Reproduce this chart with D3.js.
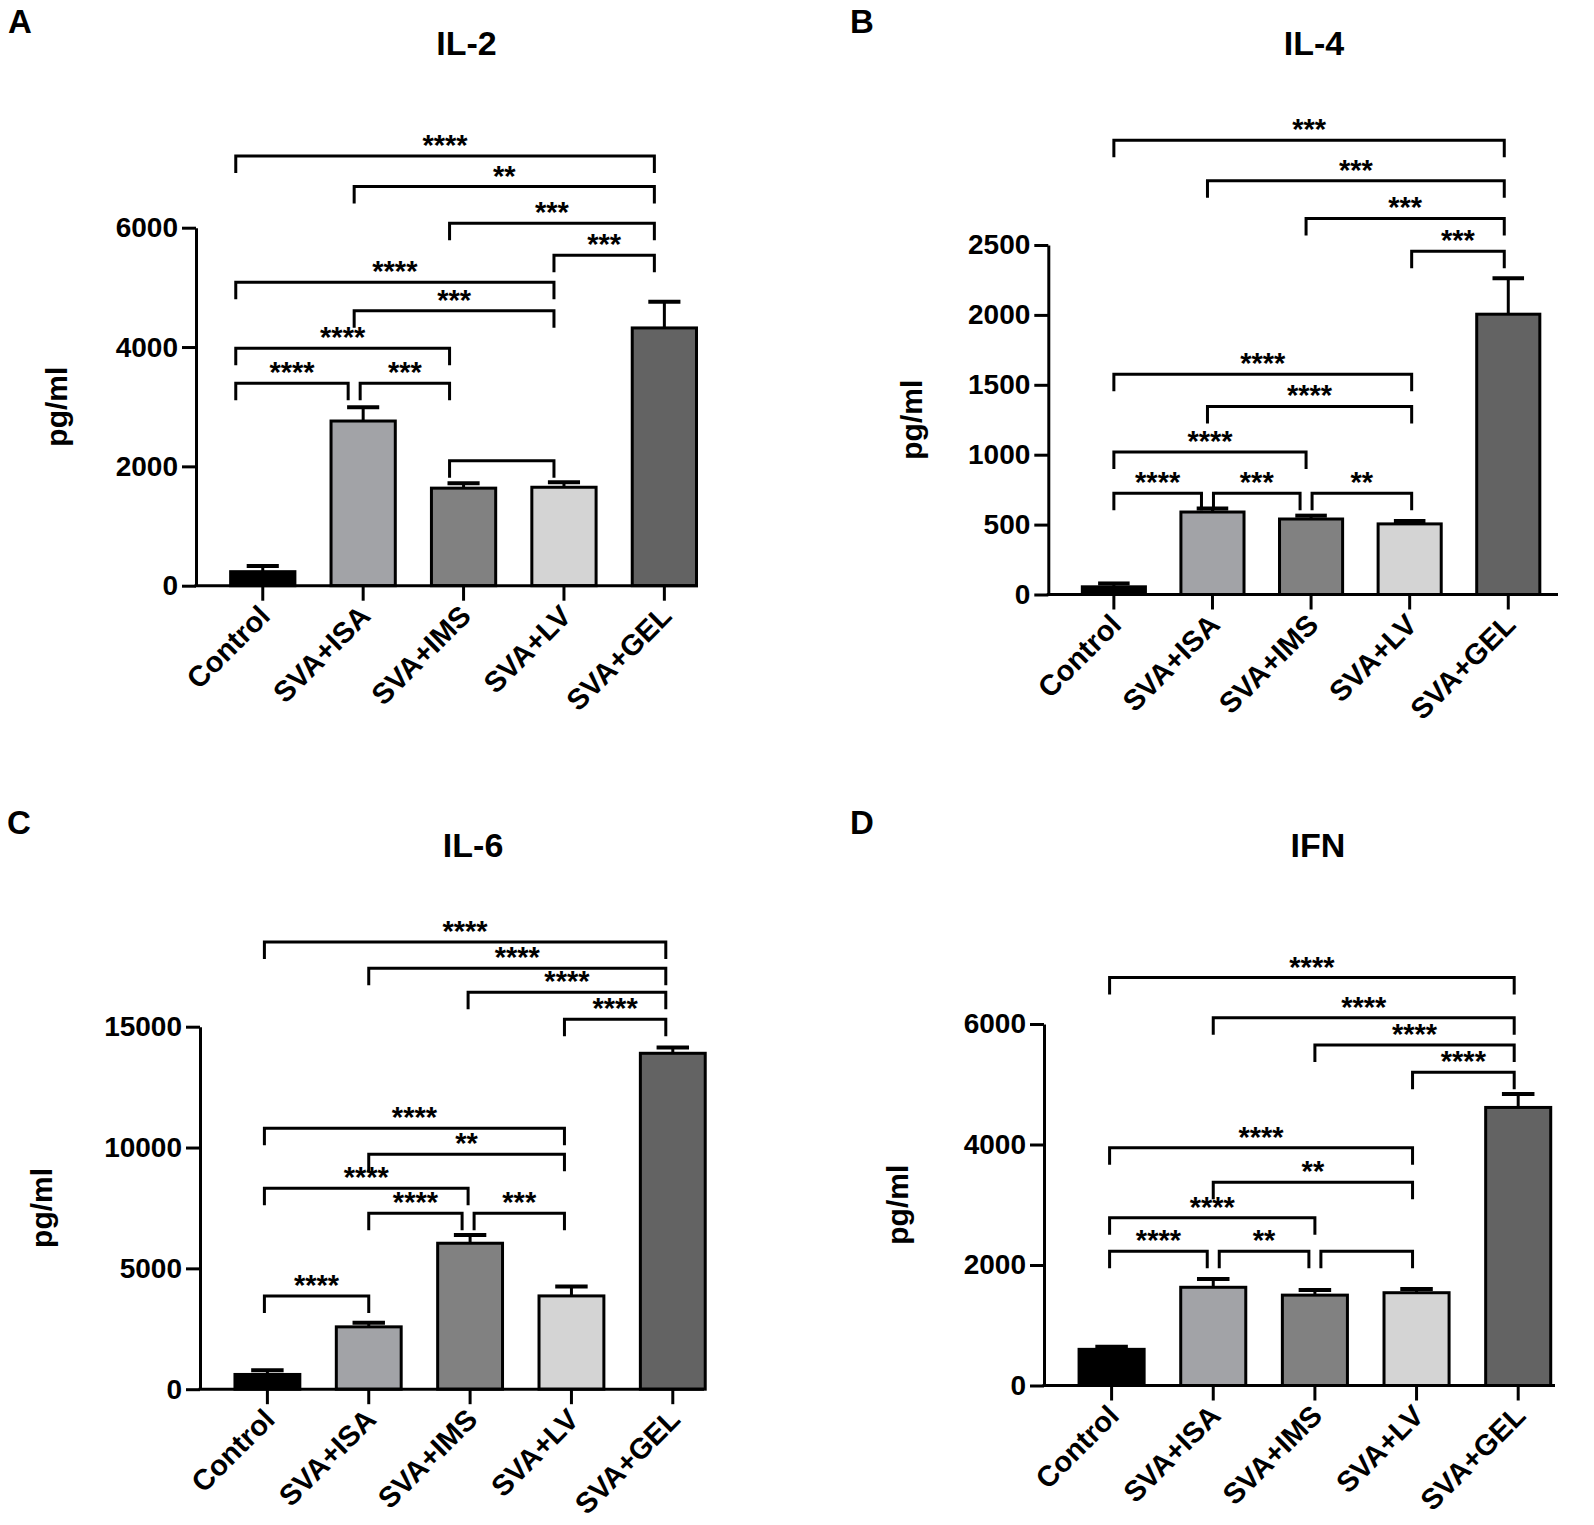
<!DOCTYPE html>
<html>
<head>
<meta charset="utf-8">
<script src="https://cdn.jsdelivr.net/npm/d3@7"></script>
<style>
  body { margin: 0; background: #fff; }
  svg { display: block; font-family: "Liberation Sans", Arial, sans-serif; }
</style>
</head>
<body>
<svg width="1594" height="1525"></svg>
<script>
// groups and bar colours, shared by all four panels
const groups = ["Control", "SVA+ISA", "SVA+IMS", "SVA+LV", "SVA+GEL"];
const barColors = ["#000000", "#a2a3a7", "#818181", "#d4d4d4", "#636363"];

// IL-2 (pg/ml): mean and upper error
const il2Mean = [235, 2760, 1635, 1650, 4320];
const il2Err  = [95, 230, 82, 83, 440];
const il2Ticks = [0, 2000, 4000, 6000];
// [from, to, level (pg/ml), label]
const il2Sig = [
  [0, 4, 7200, "****"], [1, 4, 6690, "**"], [2, 4, 6075, "***"], [3, 4, 5540, "***"],
  [0, 3, 5085, "****"], [1, 3, 4610, "***"], [0, 2, 3980, "****"],
  [0, 1, 3395, "****"], [1, 2, 3395, "***"], [2, 3, 2095, ""]
];

// IL-4
const il4Mean = [55, 590, 540, 505, 2005];
const il4Err  = [24, 25, 24, 21, 257];
const il4Ticks = [0, 500, 1000, 1500, 2000, 2500];
const il4Sig = [
  [0, 4, 3250, "***"], [1, 4, 2960, "***"], [2, 4, 2690, "***"], [3, 4, 2455, "***"],
  [0, 3, 1575, "****"], [1, 3, 1345, "****"], [0, 2, 1020, "****"],
  [0, 1, 725, "****"], [1, 2, 725, "***"], [2, 3, 725, "**"]
];

// IL-6
const il6Mean = [610, 2580, 6040, 3860, 13900];
const il6Err  = [170, 165, 340, 385, 235];
const il6Ticks = [0, 5000, 10000, 15000];
const il6Sig = [
  [0, 4, 18500, "****"], [1, 4, 17420, "****"], [2, 4, 16430, "****"], [3, 4, 15310, "****"],
  [0, 3, 10800, "****"], [1, 3, 9720, "**"], [0, 2, 8315, "****"],
  [1, 2, 7280, "****"], [2, 3, 7280, "***"], [0, 1, 3860, "****"]
];

// IFN
const ifnMean = [600, 1630, 1500, 1540, 4615];
const ifnErr  = [45, 138, 85, 62, 223];
const ifnTicks = [0, 2000, 4000, 6000];
const ifnSig = [
  [0, 4, 6770, "****"], [1, 4, 6105, "****"], [2, 4, 5650, "****"], [3, 4, 5200, "****"],
  [0, 3, 3945, "****"], [1, 3, 3375, "**"], [0, 2, 2785, "****"],
  [0, 1, 2230, "****"], [1, 2, 2230, "**"], [2, 3, 2230, ""]
];

const svg = d3.select("svg");
const LW = 3;

// layout per panel (pixels); legShift moves bracket legs off the bar centre
const panels = [
  { letter: "A", title: "IL-2", mean: il2Mean, err: il2Err, ticks: il2Ticks, sig: il2Sig,
    x0: 196, xEnd: 698, step: 100.4, y0: 585.7, yTop: 227.7, labX: 60, letX: 8, letY: 33, titleY: 55,
    legShift: [-27, -9, -14, -10, -10] },
  { letter: "B", title: "IL-4", mean: il4Mean, err: il4Err, ticks: il4Ticks, sig: il4Sig,
    x0: 1048.3, xEnd: 1558, step: 98.6, y0: 594.5, yTop: 245, labX: 915, letX: 850, letY: 33, titleY: 55,
    legShift: [0, -5, -5, 2, -4] },
  { letter: "C", title: "IL-6", mean: il6Mean, err: il6Err, ticks: il6Ticks, sig: il6Sig,
    x0: 200, xEnd: 704, step: 101.35, y0: 1389.2, yTop: 1026.7, labX: 45, letX: 7, letY: 834, titleY: 857,
    legShift: [-3, 0, -2, -7, -7] },
  { letter: "D", title: "IFN", mean: ifnMean, err: ifnErr, ticks: ifnTicks, sig: ifnSig,
    x0: 1044, xEnd: 1555, step: 101.65, y0: 1385.5, yTop: 1024, labX: 901, letX: 850, letY: 834, titleY: 857,
    legShift: [-2, 0, 0, -4, -4] }
];

panels.forEach(drawPanel);

function drawPanel(p) {
  const g = svg.append("g");

  const x = d3.scaleBand()
    .domain(groups)
    .range([p.x0 + 0.165 * p.step, p.x0 + 5.165 * p.step])
    .paddingInner(0.36)
    .paddingOuter(0.18);
  const y = d3.scaleLinear()
    .domain([0, d3.max(p.ticks)])
    .range([p.y0, p.yTop]);

  const bw = x.bandwidth();
  const cx = d => x(d) + bw / 2;

  // bars
  g.selectAll("rect.bar")
    .data(groups)
    .join("rect")
      .attr("class", "bar")
      .attr("x", d => x(d))
      .attr("y", (d, i) => y(p.mean[i]))
      .attr("width", bw)
      .attr("height", (d, i) => p.y0 - y(p.mean[i]))
      .attr("fill", (d, i) => barColors[i])
      .attr("stroke", "#000")
      .attr("stroke-width", LW);

  // error bars (upper only)
  g.selectAll("line.err")
    .data(groups)
    .join("line")
      .attr("class", "err")
      .attr("x1", cx).attr("x2", cx)
      .attr("y1", (d, i) => y(p.mean[i]))
      .attr("y2", (d, i) => y(p.mean[i] + p.err[i]))
      .attr("stroke", "#000").attr("stroke-width", LW);
  g.selectAll("line.cap")
    .data(groups)
    .join("line")
      .attr("class", "cap")
      .attr("x1", d => cx(d) - bw / 4).attr("x2", d => cx(d) + bw / 4)
      .attr("y1", (d, i) => y(p.mean[i] + p.err[i]))
      .attr("y2", (d, i) => y(p.mean[i] + p.err[i]))
      .attr("stroke", "#000").attr("stroke-width", LW + 1);

  // y axis
  const ya = g.append("g")
    .attr("transform", `translate(${p.x0},0)`)
    .call(d3.axisLeft(y).tickValues(p.ticks).tickFormat(d3.format("d"))
      .tickSize(14).tickSizeOuter(0).tickPadding(4));
  ya.select(".domain").attr("stroke-width", LW);
  ya.selectAll(".tick line").attr("stroke-width", LW);
  ya.selectAll(".tick text")
    .attr("font-size", "28px").attr("font-weight", "bold")
    .attr("font-family", "Liberation Sans, Arial, sans-serif").attr("fill", "#000");

  // x axis
  g.append("line")
    .attr("x1", p.x0 - LW / 2).attr("x2", p.xEnd)
    .attr("y1", p.y0).attr("y2", p.y0)
    .attr("stroke", "#000").attr("stroke-width", LW);
  const xa = g.append("g")
    .attr("transform", `translate(0,${p.y0})`)
    .call(d3.axisBottom(x).tickSize(15).tickSizeOuter(0));
  xa.select(".domain").remove();
  xa.selectAll(".tick line").attr("stroke-width", LW);
  xa.selectAll(".tick text")
    .attr("x", 0).attr("y", 0).attr("dy", null)
    .attr("text-anchor", "end")
    .attr("transform", "translate(9,32) rotate(-45)")
    .attr("font-size", "29px").attr("font-weight", "bold")
    .attr("font-family", "Liberation Sans, Arial, sans-serif").attr("fill", "#000");

  // axis title
  g.append("text")
    .attr("transform", `translate(${p.labX + 7},${(p.y0 + p.yTop) / 2}) rotate(-90)`)
    .attr("text-anchor", "middle")
    .attr("font-size", "30px").attr("font-weight", "bold")
    .text("pg/ml");

  // panel title and letter
  g.append("text")
    .attr("x", (cx(groups[0]) + cx(groups[4])) / 2 + 3).attr("y", p.titleY)
    .attr("text-anchor", "middle")
    .attr("font-size", "34px").attr("font-weight", "bold")
    .text(p.title);
  g.append("text")
    .attr("x", p.letX).attr("y", p.letY)
    .attr("font-size", "33px").attr("font-weight", "bold")
    .text(p.letter);

  // significance brackets
  const drop = 17;
  p.sig.forEach(s => {
    const [a, b, level, label] = s;
    let xa1 = cx(groups[a]) + p.legShift[a], xb1 = cx(groups[b]) + p.legShift[b];
    p.sig.forEach(o => {
      if (o === s || o[2] !== level) return;
      if (o[0] === b) xb1 -= 6;
      if (o[1] === a) xa1 += 6;
    });
    const ly = y(level);
    g.append("path")
      .attr("d", `M${xa1},${ly + drop}V${ly}H${xb1}V${ly + drop}`)
      .attr("fill", "none")
      .attr("stroke", "#000").attr("stroke-width", LW);
    if (label) {
      g.append("text")
        .attr("x", (xa1 + xb1) / 2).attr("y", ly - 1)
        .attr("text-anchor", "middle")
        .attr("font-size", "29px").attr("font-weight", "bold")
        .text(label);
    }
  });
}
</script>
</body>
</html>
